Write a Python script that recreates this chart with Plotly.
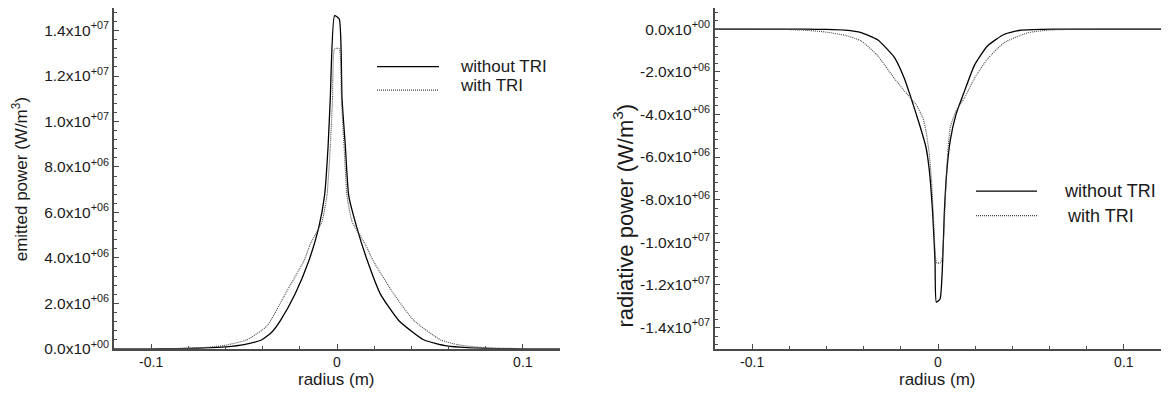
import plotly.graph_objects as go
import math

# ---------------- data ----------------
# Left panel: emitted power (W/m^3) vs radius (m)
em_x_without = [-0.12, -0.10, -0.09, -0.08, -0.07, -0.06, -0.05, -0.0404, -0.035, -0.0304,
                -0.0225, -0.0153, -0.0099, -0.0067, -0.0048, -0.0036, -0.0013,
                0.0012, 0.0027, 0.0045, 0.0063, 0.0108, 0.0165, 0.0233, 0.0332,
                0.0466, 0.0592, 0.070, 0.080, 0.090, 0.10, 0.12]
em_y_without = [0, 2e3, 6e3, 1.6e4, 4e4, 9e4, 1.9e5, 4.0e5, 7.4e5, 1.25e6,
                2.42e6, 3.84e6, 5.31e6, 6.74e6, 8.9e6, 1.106e7, 1.466e7,
                1.451e7, 1.1e7, 8.9e6, 6.74e6, 5.3e6, 3.84e6, 2.42e6, 1.25e6,
                4.0e5, 1.3e5, 5e4, 2e4, 8e3, 3e3, 0]

em_x_with = [-0.12, -0.11, -0.10, -0.09, -0.08, -0.07, -0.06, -0.0485, -0.0377, -0.0278,
             -0.018, -0.0144, -0.0081, -0.0054, -0.0036, -0.0024, -0.0013,
             0.0012, 0.0024, 0.0038, 0.0054, 0.0081, 0.0152, 0.0197, 0.0305, 0.0413,
             0.0556, 0.0646, 0.075, 0.085, 0.10, 0.11, 0.12]
em_y_with = [0, 2e3, 5e3, 1.2e4, 2.7e4, 6.5e4, 1.6e5, 4.0e5, 1.0e6, 2.42e6,
             3.84e6, 4.6e6, 5.6e6, 6.74e6, 8.9e6, 1.1e7, 1.32e7,
             1.32e7, 1.1e7, 8.9e6, 6.74e6, 5.6e6, 4.6e6, 3.84e6, 2.42e6, 1.25e6,
             4.0e5, 1.9e5, 8e4, 3.5e4, 1e4, 4e3, 0]

# Right panel: radiative power (W/m^3) vs radius (m)
rad_x_without = [-0.12, -0.08, -0.07, -0.06, -0.05, -0.0414, -0.0325, -0.0235, -0.0181, -0.0145,
                 -0.010, -0.0065, -0.0047, -0.0029, -0.0016, -0.0009,
                 0.0011, 0.0025, 0.0034, 0.0048, 0.0066, 0.0097, 0.0142, 0.0196, 0.0267,
                 0.0357, 0.0447, 0.0554, 0.07, 0.12]
rad_y_without = [0, 0, -3e3, -1.5e4, -5e4, -1.6e5, -5.0e5, -1.32e6, -2.31e6, -3.23e6,
                 -4.46e6, -5.53e6, -6.6e6, -8.6e6, -1.09e7, -1.281e7,
                 -1.266e7, -1.09e7, -8.6e6, -6.6e6, -5.22e6, -4.0e6, -2.92e6, -1.7e6, -7.8e5,
                 -2.4e5, -4.6e4, -8e3, 0, 0]

rad_x_with = [-0.12, -0.09, -0.08, -0.07, -0.06, -0.05, -0.0414, -0.0325, -0.0235, -0.0163,
              -0.0118, -0.0082, -0.0065, -0.0047, -0.0034, -0.0023, -0.0013, -0.0006,
              0.0012, 0.0023, 0.0034, 0.0043, 0.0052, 0.0066, 0.0097, 0.0142, 0.0196,
              0.0267, 0.0357, 0.0483, 0.0591, 0.0734, 0.085, 0.12]
rad_y_with = [0, -3e3, -2e4, -6e4, -1.4e5, -2.9e5, -5.5e5, -1.24e6, -2.31e6, -3.08e6,
              -3.54e6, -4.15e6, -4.76e6, -5.84e6, -7.22e6, -9.06e6, -1.074e7, -1.097e7,
              -1.097e7, -1.074e7, -9.06e6, -7.22e6, -5.84e6, -4.61e6, -3.84e6, -3.23e6, -2.31e6,
              -1.39e6, -6.3e5, -1.7e5, -4.6e4, -1e4, 0, 0]

x_tickvals = [-0.1, 0, 0.1]
x_ticktext = ["-0.1", "0", "0.1"]
left_y_tickvals = [0, 2e6, 4e6, 6e6, 8e6, 1e7, 1.2e7, 1.4e7]
right_y_tickvals = [0, -2e6, -4e6, -6e6, -8e6, -1e7, -1.2e7, -1.4e7]

series_names = ["without TRI", "with TRI"]


def sci_label(v):
    if v == 0:
        return "0.0x10<sup>+00</sup>"
    e = int(math.floor(math.log10(abs(v)) + 1e-9))
    m = v / 10 ** e
    return f"{m:.1f}x10<sup>+{e:02d}</sup>"


# ---------------- figure ----------------
W, H = 1168, 398
FONT = "Liberation Sans, Arial, Helvetica, sans-serif"
AX = "#4a4a4a"

fig = go.Figure()
solid = dict(color="black", width=1.3, shape="spline", smoothing=0.5)
dotted = dict(color="#444444", width=1.1, dash="1px,1px", shape="spline", smoothing=0.5)

fig.add_trace(go.Scatter(x=em_x_without, y=em_y_without, mode="lines", line=solid,
                         xaxis="x", yaxis="y", showlegend=False, name=series_names[0]))
fig.add_trace(go.Scatter(x=em_x_with, y=em_y_with, mode="lines", line=dotted,
                         xaxis="x", yaxis="y", showlegend=False, name=series_names[1]))
fig.add_trace(go.Scatter(x=rad_x_without, y=rad_y_without, mode="lines", line=solid,
                         xaxis="x2", yaxis="y2", showlegend=False, name=series_names[0]))
fig.add_trace(go.Scatter(x=rad_x_with, y=rad_y_with, mode="lines", line=dotted,
                         xaxis="x2", yaxis="y2", showlegend=False, name=series_names[1]))

ydom = [1 - 356 / H, 1 - 8 / H]


def xaxis_cfg(dom, anchor):
    return dict(domain=dom, anchor=anchor, range=[-0.12, 0.12], tickmode="array",
                tickvals=x_tickvals, ticktext=x_ticktext, ticks="inside", ticklen=5,
                tickwidth=1, tickcolor=AX, showline=True, linecolor=AX, linewidth=1.5,
                zeroline=False, showgrid=False,
                tickfont=dict(family=FONT, size=14, color="#1a1a1a"),
                minor=dict(ticks="inside", ticklen=3, tickwidth=1, tickcolor=AX,
                           tickvals=[-0.08, -0.06, -0.04, -0.02, 0.02, 0.04, 0.06, 0.08],
                           showgrid=False))


def yaxis_cfg(anchor, rng, tv, minor_vals):
    return dict(domain=ydom, anchor=anchor, range=rng, tickmode="array",
                tickvals=tv, ticktext=[sci_label(v) for v in tv], ticks="inside",
                ticklen=5, tickwidth=1, tickcolor=AX, showline=True, linecolor=AX,
                linewidth=1.5, zeroline=False, showgrid=False,
                tickfont=dict(family=FONT, size=15.5, color="#1a1a1a"),
                minor=dict(ticks="inside", ticklen=3, tickwidth=1, tickcolor=AX,
                           tickvals=minor_vals, showgrid=False))


left_minor = [i * 4e5 for i in range(0, 38)]
right_minor = [-i * 4e5 for i in range(0, 38)] + [4e5, 8e5]

fig.update_layout(
    width=W, height=H,
    margin=dict(l=0, r=0, t=0, b=0),
    paper_bgcolor="white", plot_bgcolor="white",
    font=dict(family=FONT, color="#1a1a1a"),
    xaxis=xaxis_cfg([114 / W, 560 / W], "y"),
    yaxis=yaxis_cfg("x", [0, 1.5e7], left_y_tickvals, left_minor),
    xaxis2=xaxis_cfg([715 / W, 1161 / W], "y2"),
    yaxis2=yaxis_cfg("x2", [-1.5e7, 1e6], right_y_tickvals, right_minor),
    showlegend=False,
)

annos = []
# axis titles
annos.append(dict(text="radius (m)", x=336.7 / W, y=1 - 387 / H, xref="paper", yref="paper",
                  showarrow=False, xanchor="center", yanchor="middle",
                  font=dict(family=FONT, size=17)))
annos.append(dict(text="radius (m)", x=937 / W, y=1 - 387 / H, xref="paper", yref="paper",
                  showarrow=False, xanchor="center", yanchor="middle",
                  font=dict(family=FONT, size=17)))
annos.append(dict(text="emitted power (W/m<sup>3</sup>)", x=20 / W, y=1 - 183 / H,
                  xref="paper", yref="paper", showarrow=False, textangle=-90,
                  xanchor="center", yanchor="middle", font=dict(family=FONT, size=17)))
annos.append(dict(text="radiative power (W/m<sup>3</sup>)", x=623 / W, y=1 - 220 / H,
                  xref="paper", yref="paper", showarrow=False, textangle=-90,
                  xanchor="center", yanchor="middle", font=dict(family=FONT, size=22)))

# legends
shapes = []
legend_specs = [
    # (line x0, x1, line y solid, line y dotted, text x solid, text x dotted, text y solid, text y dotted, size)
    (377, 439, 68, 92, 458, 458, 68, 87, 17),
    (976, 1037, 195, 220, 1062, 1065, 195, 220, 18),
]
for (lx0, lx1, ys, yd, tx1, tx2, ty1, ty2, fs) in legend_specs:
    shapes.append(dict(type="line", xref="paper", yref="paper", x0=lx0 / W, x1=lx1 / W,
                       y0=1 - ys / H, y1=1 - ys / H, line=dict(color="black", width=1.3)))
    shapes.append(dict(type="line", xref="paper", yref="paper", x0=lx0 / W, x1=lx1 / W,
                       y0=1 - yd / H, y1=1 - yd / H,
                       line=dict(color="#444444", width=1.1, dash="1px,1px")))
    annos.append(dict(text=series_names[0], x=tx1 / W, y=1 - ty1 / H, xref="paper", yref="paper",
                      showarrow=False, xanchor="left", yanchor="middle",
                      font=dict(family=FONT, size=fs)))
    annos.append(dict(text=series_names[1], x=tx2 / W, y=1 - ty2 / H, xref="paper", yref="paper",
                      showarrow=False, xanchor="left", yanchor="middle",
                      font=dict(family=FONT, size=fs)))

fig.update_layout(annotations=annos, shapes=shapes)

fig.write_html("out.html")
